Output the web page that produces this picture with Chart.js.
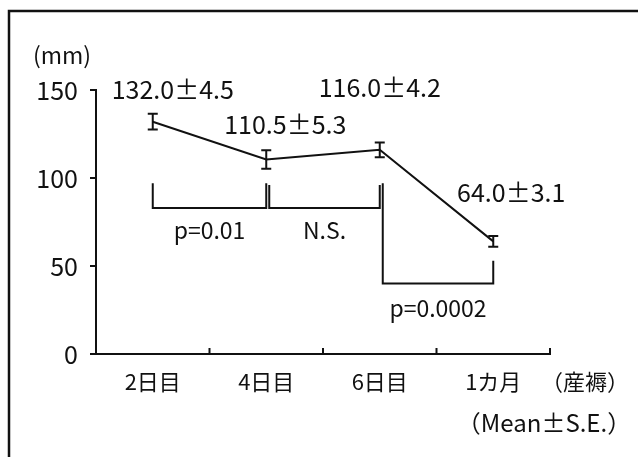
<!DOCTYPE html>
<html>
<head>
<meta charset="utf-8">
<script src="https://cdn.jsdelivr.net/npm/chart.js@4/dist/chart.umd.min.js"></script>
<style>
  html, body { margin: 0; padding: 0; background: #fff; }
  #wrap { width: 638px; height: 457px; }
</style>
</head>
<body>
<div id="wrap"><canvas id="chart" width="638" height="457"></canvas></div>
<script>
// data
var categories = ['2日目', '4日目', '6日目', '1カ月'];
var means = [132.0, 110.5, 116.0, 64.0];
var errors = [4.5, 5.3, 4.2, 3.1];
var yTicks = [0, 50, 100, 150];
// brackets: from index, to index, top-left value, top-right value, bottom value, text, text value
var bracketFrom = [0, 1, 2];
var bracketTo = [1, 2, 3];
var bracketTopL = [97, 96, 97];
var bracketTopR = [97, 96, 53];
var bracketBottom = [83, 83, 40];
var bracketText = ['p=0.01', 'N.S.', 'p=0.0002'];
var bracketTextY = [70.5, 70.5, 26];

// label placement (pixels from point)
var labelOffsets = [[20, -32], [19, -35], [0, -62], [18, -49]];

var FONT = '"Noto Sans CJK JP", "Liberation Sans", sans-serif';
var INK = '#111';

var extras = {
    id: 'extras',
    afterDraw: function (chart) {
        var ctx = chart.ctx;
        var x = chart.scales.x, y = chart.scales.y;
        var meta = chart.getDatasetMeta(0);
        ctx.save();
        ctx.strokeStyle = INK;
        ctx.fillStyle = INK;

        // frame
        ctx.lineWidth = 2.5;
        ctx.strokeRect(9, 11, 660, 480);
        ctx.lineWidth = 2;

        // x ticks pointing up, between categories
        var step = x.getPixelForValue(1) - x.getPixelForValue(0);
        for (var i = 0; i < categories.length; i++) {
            var tx = x.getPixelForValue(i) + step / 2;
            ctx.beginPath();
            ctx.moveTo(tx, y.bottom);
            ctx.lineTo(tx, y.bottom - 6);
            ctx.stroke();
        }

        // error bars
        meta.data.forEach(function (pt, i) {
            var top = y.getPixelForValue(means[i] + errors[i]);
            var bot = y.getPixelForValue(means[i] - errors[i]);
            ctx.beginPath();
            ctx.moveTo(pt.x, top); ctx.lineTo(pt.x, bot);
            ctx.moveTo(pt.x - 5, top); ctx.lineTo(pt.x + 5, top);
            ctx.moveTo(pt.x - 5, bot); ctx.lineTo(pt.x + 5, bot);
            ctx.stroke();
        });

        // value labels
        ctx.font = '25px ' + FONT;
        ctx.textAlign = 'center';
        ctx.textBaseline = 'middle';
        meta.data.forEach(function (pt, i) {
            ctx.fillText(means[i].toFixed(1) + '±' + errors[i].toFixed(1),
                pt.x + labelOffsets[i][0], pt.y + labelOffsets[i][1]);
        });

        // brackets
        ctx.font = '23px ' + FONT;
        bracketFrom.forEach(function (f, i) {
            var x1 = x.getPixelForValue(f) + (i > 0 ? 3 : 0);
            var x2 = x.getPixelForValue(bracketTo[i]);
            var yb = y.getPixelForValue(bracketBottom[i]);
            ctx.beginPath();
            ctx.moveTo(x1, y.getPixelForValue(bracketTopL[i]));
            ctx.lineTo(x1, yb);
            ctx.lineTo(x2, yb);
            ctx.lineTo(x2, y.getPixelForValue(bracketTopR[i]));
            ctx.stroke();
            ctx.fillText(bracketText[i], (x1 + x2) / 2, y.getPixelForValue(bracketTextY[i]));
        });

        // axis captions
        ctx.font = '23px ' + FONT;
        ctx.fillText('(mm)', 62, 55);
        ctx.font = '22px ' + FONT;
        ctx.fillText('（産褥）', 585, 382);
        ctx.font = '24px ' + FONT;
        ctx.fillText('（Mean±S.E.）', 544, 423);
        ctx.restore();
    }
};

new Chart(document.getElementById('chart').getContext('2d'), {
    type: 'line',
    data: {
        labels: categories,
        datasets: [{
            data: means,
            borderColor: INK,
            borderWidth: 2,
            pointRadius: 0,
            tension: 0
        }]
    },
    options: {
        responsive: false,
        animation: false,
        layout: { padding: { top: 90, right: 88, left: 0, bottom: 0 } },
        plugins: { legend: { display: false }, tooltip: { enabled: false } },
        scales: {
            x: {
                offset: true,
                grid: { display: false, drawTicks: false },
                border: { color: INK, width: 2 },
                ticks: { color: INK, font: { size: 22, family: FONT }, padding: 14 },
                afterFit: function (s) { s.height = 457 - 354; }
            },
            y: {
                min: 0,
                max: 150,
                afterBuildTicks: function (s) { s.ticks = yTicks.map(function (v) { return { value: v }; }); },
                grid: { drawOnChartArea: false, tickLength: 6, color: INK, lineWidth: 2 },
                border: { color: INK, width: 2 },
                ticks: { color: INK, font: { size: 25, family: FONT }, padding: 12 },
                afterFit: function (s) { s.width = 96; }
            }
        }
    },
    plugins: [extras]
});
</script>
</body>
</html>
